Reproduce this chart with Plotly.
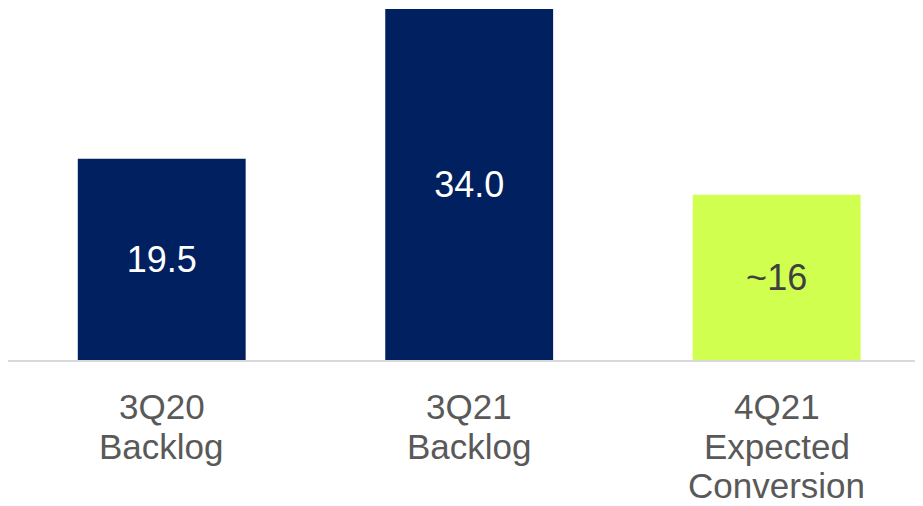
import plotly.graph_objects as go

categories = ["3Q20<br>Backlog", "3Q21<br>Backlog", "4Q21<br>Expected<br>Conversion"]
values = [19.5, 34.0, 16.0]
value_labels = ["19.5", "34.0", "~16"]
bar_colors = ["#002060", "#002060", "#D0FF4F"]
label_colors = ["#FFFFFF", "#FFFFFF", "#404040"]

FONT = "Liberation Sans, Arial"

fig = go.Figure(go.Bar(
    x=categories, y=values,
    marker=dict(color=bar_colors, line=dict(width=0)),
    width=0.546,
    text=value_labels,
    textposition="inside",
    insidetextanchor="middle",
    textangle=0,
    textfont=dict(family=FONT, size=36, color=label_colors),
    hoverinfo="skip",
))

# category labels drawn line by line (tighter line spacing than plotly's default)
first_shift = 46.5
pitch = 39.5
for cat in categories:
    for j, line in enumerate(cat.split("<br>")):
        fig.add_annotation(
            x=cat, xref="x", y=0, yref="paper",
            text=line, showarrow=False,
            xanchor="center", yanchor="middle",
            yshift=-(first_shift + j * pitch),
            font=dict(family=FONT, size=35, color="#595959"),
        )

fig.update_layout(
    width=915, height=498,
    margin=dict(l=0, r=0, t=1, b=146, autoexpand=False),
    paper_bgcolor="white", plot_bgcolor="white",
    showlegend=False,
    uniformtext=dict(mode=False),
    xaxis=dict(
        type="category",
        range=[-0.5, 2.476],
        automargin=False,
        showline=True, linecolor="#D9D9D9", linewidth=2,
        showgrid=False, zeroline=False,
        ticks="", showticklabels=False,
    ),
    yaxis=dict(range=[0, 34.0], visible=False, showgrid=False, zeroline=False, automargin=False),
)

fig.write_html("out.html")
